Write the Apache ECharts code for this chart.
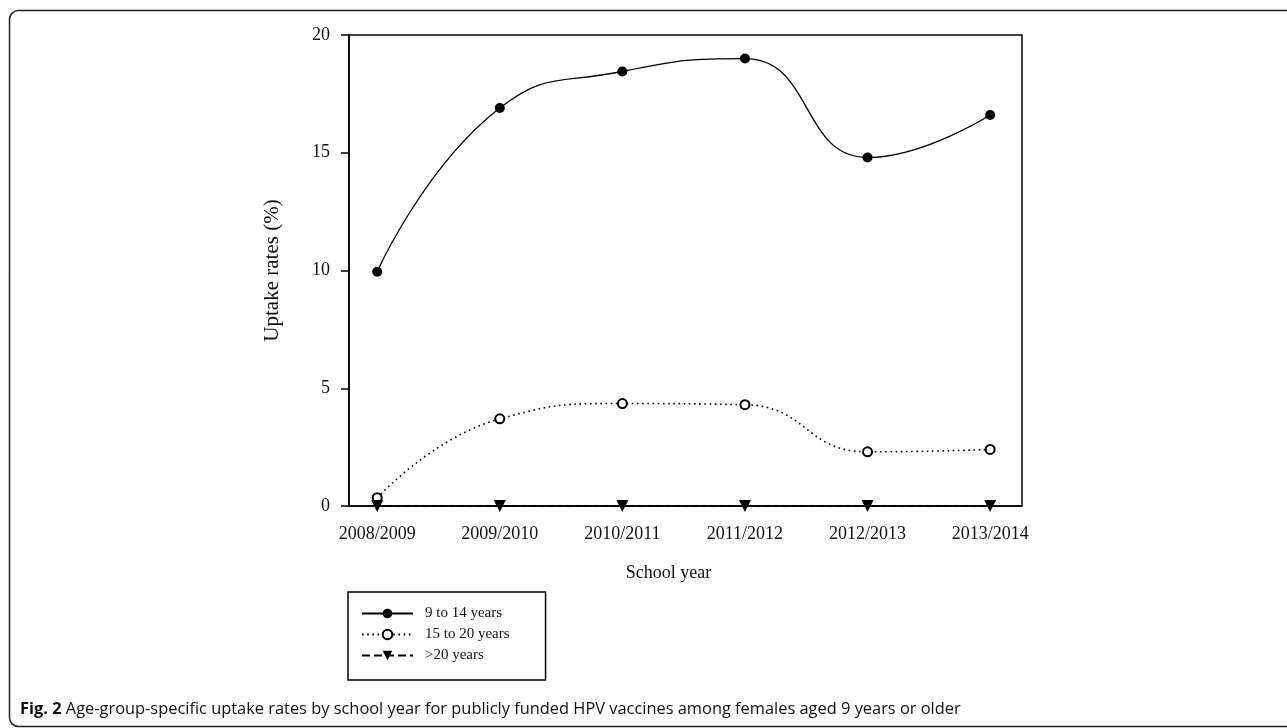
<!DOCTYPE html>
<html><head><meta charset="utf-8">
<script src="https://cdn.jsdelivr.net/npm/echarts@6/dist/echarts.min.js"></script>
<style>html,body{margin:0;padding:0;background:#fff;}#c{width:1287px;height:728px;}</style>
</head><body><div id="c"></div>
<script>
const categories = ['2008/2009','2009/2010','2010/2011','2011/2012','2012/2013','2013/2014'];
const seriesNames = ['9 to 14 years','15 to 20 years','>20 years'];
const age9to14 = [9.95, 16.9, 18.45, 19.0, 14.8, 16.6];
const age15to20 = [0.35, 3.7, 4.35, 4.3, 2.3, 2.4];
const age20plus = [0, 0, 0, 0, 0, 0];
const yTicks = [0, 5, 10, 15, 20];

const toPts = arr => arr.map((v, i) => [i, v]);
const chart = echarts.init(document.getElementById('c'), null, {renderer: 'canvas'});
const serif = 'Liberation Serif';
chart.setOption({
  animation: false,
  backgroundColor: '#fff',
  grid: {left: 349, right: 265, top: 35, bottom: 222, show: true, borderColor: '#000', borderWidth: 1.5},
  xAxis: {
    type: 'value', min: -0.23, max: 5.26,
    name: 'School year', nameLocation: 'middle', nameGap: 58,
    nameTextStyle: {fontFamily: serif, fontSize: 18, color: '#111', padding: [0, 34, 0, 0]},
    axisLine: {show: true, onZero: false, lineStyle: {color: '#000', width: 1.5}},
    axisTick: {show: false},
    splitLine: {show: false},
    axisLabel: {customValues: [0,1,2,3,4,5], fontFamily: serif, fontSize: 18, color: '#111', margin: 19,
      formatter: v => categories[Math.round(v)] || ''}
  },
  yAxis: {
    type: 'value', min: 0, max: 20, interval: 5,
    name: 'Uptake rates (%)', nameLocation: 'middle', nameGap: 66,
    nameTextStyle: {fontFamily: serif, fontSize: 21, color: '#111'},
    axisLine: {show: true, onZero: false, lineStyle: {color: '#000', width: 1.5}},
    axisTick: {show: true, inside: false, length: 8, lineStyle: {color: '#000', width: 1.5}},
    splitLine: {show: false},
    axisLabel: {fontFamily: serif, fontSize: 18, color: '#111', margin: 19,
      formatter: v => yTicks.includes(v) ? String(v) : ''}
  },
  legend: {
    orient: 'vertical', left: 348, top: 592,
    borderColor: '#000', borderWidth: 1.5, padding: [14, 36, 17, 13],
    itemWidth: 51, itemHeight: 12, itemGap: 6,
    textStyle: {fontFamily: serif, fontSize: 15, color: '#111', padding: [0, 0, 0, 7]},
    data: seriesNames
  },
  series: [
    {name: seriesNames[0], type: 'line', data: toPts(age9to14), smooth: 0.5,
      symbol: 'circle', symbolSize: 10,
      itemStyle: {color: '#000'}, lineStyle: {color: '#000', width: 1.3}},
    {name: seriesNames[1], type: 'line', data: toPts(age15to20), smooth: 0.5,
      symbol: 'emptyCircle', symbolSize: 9,
      itemStyle: {color: '#000', borderWidth: 1.5}, lineStyle: {color: '#000', width: 1.6, type: [1.6, 3.6]}},
    {name: seriesNames[2], type: 'line', data: toPts(age20plus),
      symbol: 'triangle', symbolRotate: 180, symbolSize: 12,
      itemStyle: {color: '#000'}, lineStyle: {color: '#000', width: 1.5, type: 'dashed'}}
  ],
  graphic: [
    {type: 'rect', shape: {x: 9.5, y: 10.5, width: 1320, height: 716, r: 9}, z: -1,
      style: {fill: 'none', stroke: '#222', lineWidth: 1.5}, silent: true},
    {type: 'text', left: 20, top: 701, style: {
      text: '{b|Fig. 2} Age-group-specific uptake rates by school year for publicly funded HPV vaccines among females aged 9 years or older',
      rich: {b: {fontWeight: 'bold', fontFamily: 'Open Sans', fontSize: 16.4, fill: '#111'}},
      font: '16.4px "Open Sans"', fill: '#111'}}
  ]
});
</script>
</body></html>
